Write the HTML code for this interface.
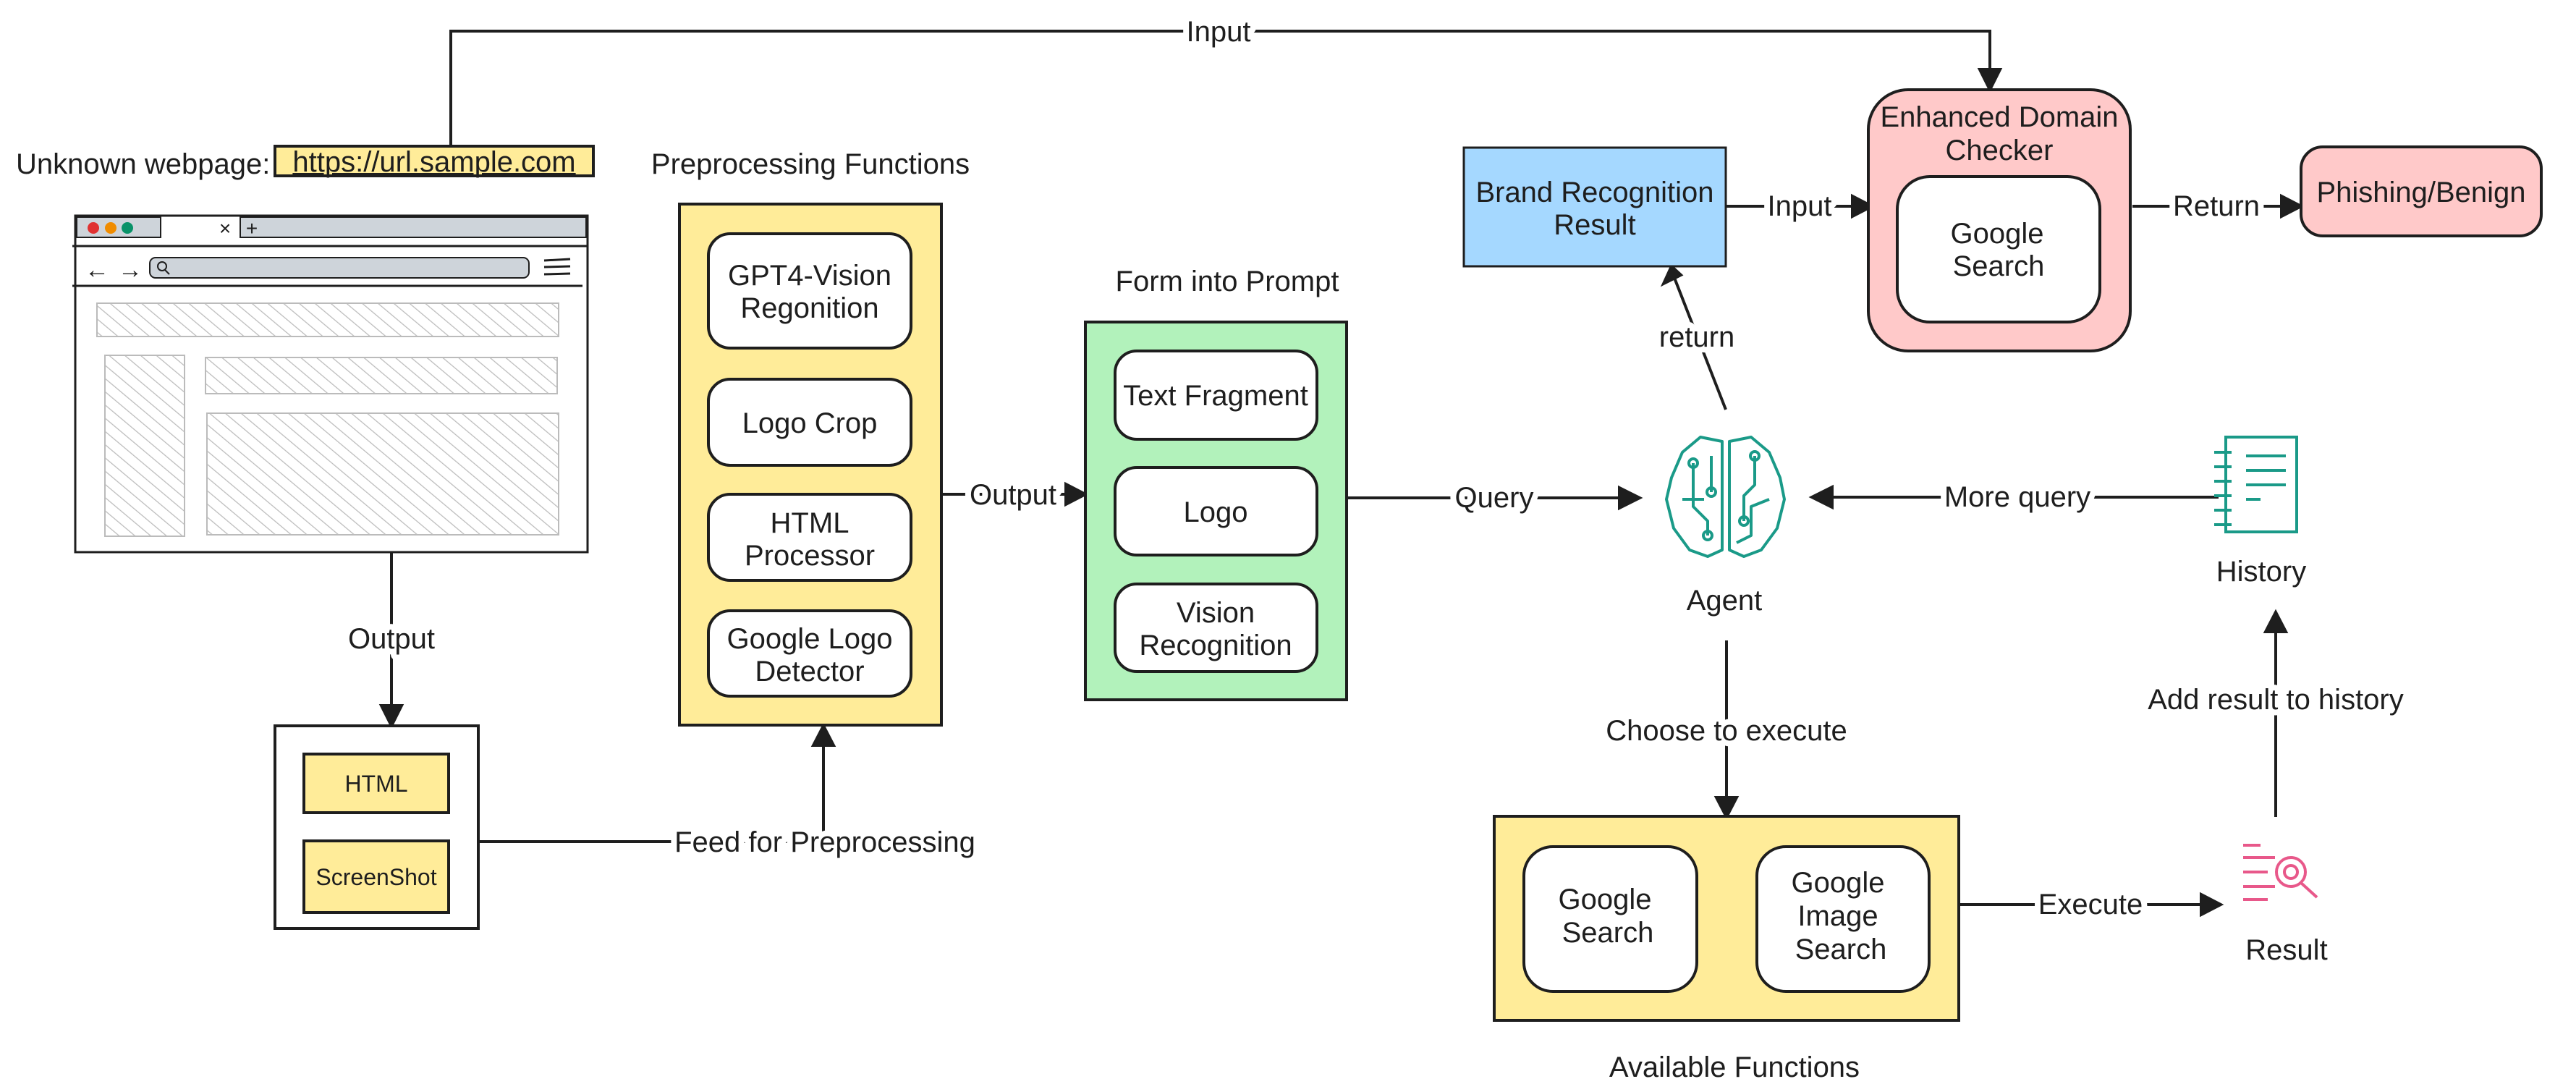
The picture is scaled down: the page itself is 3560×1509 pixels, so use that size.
<!DOCTYPE html>
<html><head><meta charset="utf-8"><style>
html,body{margin:0;padding:0;background:#fff}
svg{display:block}
text{font-family:"Liberation Sans",Arial,sans-serif;fill:#1e1e1e}
.lb{stroke:#fff;stroke-width:16;paint-order:stroke;stroke-linejoin:round}
</style></head><body>
<svg width="3560" height="1509" viewBox="0 0 3560 1509" xmlns="http://www.w3.org/2000/svg">
<defs>
<pattern id="h" width="14" height="14" patternUnits="userSpaceOnUse" patternTransform="rotate(-50)">
<line x1="0" y1="0" x2="0" y2="14" stroke="#bbb" stroke-width="2.5"/>
</pattern>
</defs>
<g stroke="#1e1e1e" stroke-width="4" fill="none">
<polyline points="623,202 623,43 2750,43 2750,118" />
<path d="M2736,96 L2764,96 L2750,124 z" fill="#1e1e1e"/>
<line x1="541" y1="763" x2="541" y2="985"/>
<path d="M527,975 L555,975 L541,1003 z" fill="#1e1e1e"/>
<polyline points="661,1163 1138,1163 1138,1010"/>
<path d="M1124,1030 L1152,1030 L1138,1003 z" fill="#1e1e1e"/>
<line x1="1301" y1="683" x2="1490" y2="683"/>
<path d="M1473,669 L1500,683 L1473,697 z" fill="#1e1e1e"/>
<line x1="1861" y1="688" x2="2255" y2="688"/>
<path d="M2238,674 L2266,688 L2238,702 z" fill="#1e1e1e"/>
<line x1="2385" y1="566" x2="2314" y2="384"/>
<path d="M2299,392 L2323,380 L2310,368 z" fill="#1e1e1e"/>
<line x1="2385" y1="285" x2="2580" y2="285"/>
<path d="M2560,271 L2587,285 L2560,299 z" fill="#1e1e1e"/>
<line x1="2947" y1="285" x2="3172" y2="285"/>
<path d="M3153,271 L3180,285 L3153,299 z" fill="#1e1e1e"/>
<line x1="3066" y1="687" x2="2515" y2="687"/>
<path d="M2532,673 L2504,687 L2532,701 z" fill="#1e1e1e"/>
<line x1="2386" y1="885" x2="2386" y2="1120"/>
<path d="M2372,1102 L2400,1102 L2386,1129 z" fill="#1e1e1e"/>
<line x1="2707" y1="1250" x2="3060" y2="1250"/>
<path d="M3042,1236 L3069,1250 L3042,1264 z" fill="#1e1e1e"/>
<line x1="3145" y1="1129" x2="3145" y2="855"/>
<path d="M3131,873 L3159,873 L3145,846 z" fill="#1e1e1e"/>
</g>

<g font-size="40" text-anchor="middle">
<text class="lb" x="1684" y="57">Input</text>
<text class="lb" x="541" y="896">Output</text>
<text class="lb" x="1140" y="1177">Feed for Preprocessing</text>
<text class="lb" x="1400" y="697">Output</text>
<text class="lb" x="2065" y="701">Query</text>
<text class="lb" x="2345" y="479">return</text>
<text class="lb" x="2487" y="298">Input</text>
<text class="lb" x="3063" y="298">Return</text>
<text class="lb" x="2788" y="700">More query</text>
<text class="lb" x="2386" y="1023">Choose to execute</text>
<text class="lb" x="2889" y="1263">Execute</text>
<text class="lb" x="3145" y="980">Add result to history</text>
</g>

<text x="22" y="240" font-size="40">Unknown webpage:</text>
<rect x="380" y="202" width="440" height="41" fill="#ffec99" stroke="#1e1e1e" stroke-width="4"/>
<text x="600" y="237" font-size="40" text-anchor="middle" text-decoration="underline">https://url.sample.com</text>

<rect x="104" y="298" width="708" height="465" fill="#fff" stroke="#1e1e1e" stroke-width="3"/>
<rect x="106" y="300" width="116" height="28" fill="#ced4da" stroke="#1e1e1e" stroke-width="2"/>
<rect x="332" y="300" width="478" height="28" fill="#ced4da" stroke="#1e1e1e" stroke-width="2"/>
<circle cx="129" cy="315" r="8" fill="#e03131"/><circle cx="153" cy="315" r="8" fill="#f08c00"/><circle cx="176" cy="315" r="8" fill="#099268"/>
<text x="311" y="325" font-size="28" text-anchor="middle">×</text>
<text x="348" y="325" font-size="28" text-anchor="middle">+</text>
<line x1="100" y1="340" x2="812" y2="340" stroke="#1e1e1e" stroke-width="3"/>
<line x1="100" y1="395" x2="805" y2="395" stroke="#1e1e1e" stroke-width="3"/>
<text x="134" y="384" font-size="34" text-anchor="middle">←</text>
<text x="180" y="384" font-size="34" text-anchor="middle">→</text>
<rect x="207" y="356" width="524" height="28" rx="8" fill="#ced4da" stroke="#1e1e1e" stroke-width="2"/>
<circle cx="224" cy="368" r="6" fill="none" stroke="#1e1e1e" stroke-width="2"/><line x1="228" y1="373" x2="234" y2="379" stroke="#1e1e1e" stroke-width="2"/>
<g stroke="#1e1e1e" stroke-width="3"><line x1="752" y1="360" x2="788" y2="358"/><line x1="752" y1="369" x2="788" y2="368"/><line x1="752" y1="379" x2="788" y2="378"/></g>
<g fill="url(#h)" stroke="#bbb" stroke-width="2">
<rect x="134" y="419" width="638" height="46"/>
<rect x="145" y="491" width="110" height="250"/>
<rect x="284" y="494" width="486" height="50"/>
<rect x="286" y="571" width="486" height="168"/>
</g>

<rect x="380" y="1003" width="281" height="280" fill="#fff" stroke="#1e1e1e" stroke-width="4"/>
<rect x="420" y="1042" width="200" height="81" fill="#ffec99" stroke="#1e1e1e" stroke-width="4"/>
<rect x="420" y="1162" width="200" height="99" fill="#ffec99" stroke="#1e1e1e" stroke-width="4"/>
<text x="520" y="1094" font-size="32" text-anchor="middle">HTML</text>
<text x="520" y="1223" font-size="32" text-anchor="middle">ScreenShot</text>

<text x="1120" y="240" font-size="40" text-anchor="middle">Preprocessing Functions</text>
<rect x="939" y="282" width="362" height="720" fill="#ffec99" stroke="#1e1e1e" stroke-width="4"/>
<g fill="#fff" stroke="#1e1e1e" stroke-width="4">
<rect x="979" y="323" width="280" height="158" rx="30"/>
<rect x="979" y="524" width="280" height="119" rx="30"/>
<rect x="979" y="683" width="280" height="119" rx="30"/>
<rect x="979" y="844" width="280" height="118" rx="30"/>
</g>
<g font-size="40" text-anchor="middle">
<text x="1119" y="394">GPT4-Vision</text><text x="1119" y="439">Regonition</text>
<text x="1119" y="598">Logo Crop</text>
<text x="1119" y="736">HTML</text><text x="1119" y="781">Processor</text>
<text x="1119" y="896">Google Logo</text><text x="1119" y="941">Detector</text>
</g>

<text x="1696" y="402" font-size="40" text-anchor="middle">Form into Prompt</text>
<rect x="1500" y="445" width="361" height="522" fill="#b2f2bb" stroke="#1e1e1e" stroke-width="4"/>
<g fill="#fff" stroke="#1e1e1e" stroke-width="4">
<rect x="1541" y="485" width="279" height="122" rx="30"/>
<rect x="1541" y="646" width="279" height="121" rx="30"/>
<rect x="1541" y="807" width="279" height="121" rx="30"/>
</g>
<g font-size="40" text-anchor="middle">
<text x="1680" y="560">Text Fragment</text>
<text x="1680" y="721">Logo</text>
<text x="1680" y="860">Vision</text><text x="1680" y="905">Recognition</text>
</g>

<g stroke="#1a9a88" stroke-width="4" fill="none" stroke-linejoin="round">
<path d="M2380,610 L2350,604 L2325,625 L2310,660 L2303,690 L2313,730 L2335,760 L2360,769 L2380,760 Z"/>
<path d="M2390,610 L2420,604 L2445,625 L2460,660 L2466,690 L2456,730 L2434,760 L2410,769 L2390,760 Z"/>
<polyline points="2340,640 2340,700 2360,720 2360,740"/>
<polyline points="2325,690 2355,690"/>
<polyline points="2365,630 2365,680"/>
<polyline points="2425,630 2425,670 2410,685 2410,720"/>
<polyline points="2445,690 2420,700 2420,740 2400,750"/>
<circle cx="2340" cy="640" r="6"/><circle cx="2365" cy="680" r="6"/><circle cx="2425" cy="630" r="6"/><circle cx="2410" cy="720" r="6"/><circle cx="2360" cy="740" r="6"/>
</g>
<text x="2383" y="843" font-size="40" text-anchor="middle">Agent</text>

<rect x="2023" y="204" width="362" height="164" fill="#a5d8ff" stroke="#1e1e1e" stroke-width="3"/>
<text x="2204" y="279" font-size="40" text-anchor="middle">Brand Recognition</text>
<text x="2204" y="324" font-size="40" text-anchor="middle">Result</text>

<rect x="2582" y="124" width="362" height="361" rx="55" fill="#ffc9c9" stroke="#1e1e1e" stroke-width="4"/>
<text x="2763" y="175" font-size="40" text-anchor="middle">Enhanced Domain</text>
<text x="2763" y="221" font-size="40" text-anchor="middle">Checker</text>
<rect x="2622" y="244" width="280" height="201" rx="45" fill="#fff" stroke="#1e1e1e" stroke-width="4"/>
<text x="2760" y="336" font-size="40" text-anchor="middle">Google</text>
<text x="2762" y="381" font-size="40" text-anchor="middle">Search</text>

<rect x="3180" y="203" width="332" height="123" rx="30" fill="#ffc9c9" stroke="#1e1e1e" stroke-width="4"/>
<text x="3346" y="279" font-size="40" text-anchor="middle">Phishing/Benign</text>

<g stroke="#1a9a88" stroke-width="4" fill="none">
<rect x="3076" y="604" width="98" height="131"/>
<line x1="3060" y1="625" x2="3084" y2="625"/><line x1="3060" y1="645" x2="3084" y2="645"/><line x1="3060" y1="665" x2="3084" y2="665"/><line x1="3060" y1="685" x2="3084" y2="685"/><line x1="3060" y1="705" x2="3084" y2="705"/><line x1="3060" y1="725" x2="3084" y2="725"/>
<line x1="3104" y1="630" x2="3159" y2="630"/><line x1="3104" y1="650" x2="3159" y2="650"/><line x1="3104" y1="670" x2="3159" y2="670"/><line x1="3104" y1="690" x2="3124" y2="690"/>
</g>
<text x="3125" y="803" font-size="40" text-anchor="middle">History</text>

<rect x="2065" y="1128" width="642" height="282" fill="#ffec99" stroke="#1e1e1e" stroke-width="4"/>
<rect x="2106" y="1170" width="239" height="200" rx="40" fill="#fff" stroke="#1e1e1e" stroke-width="4"/>
<rect x="2428" y="1170" width="238" height="200" rx="40" fill="#fff" stroke="#1e1e1e" stroke-width="4"/>
<g font-size="40" text-anchor="middle">
<text x="2218" y="1256">Google</text><text x="2222" y="1302">Search</text>
<text x="2540" y="1233">Google</text><text x="2540" y="1279">Image</text><text x="2544" y="1325">Search</text>
</g>
<text x="2397" y="1488" font-size="40" text-anchor="middle">Available Functions</text>

<g stroke="#e8588a" stroke-width="4" fill="none">
<line x1="3100" y1="1168" x2="3124" y2="1168"/>
<line x1="3100" y1="1185" x2="3144" y2="1185"/>
<line x1="3100" y1="1205" x2="3134" y2="1205"/>
<line x1="3100" y1="1225" x2="3144" y2="1225"/>
<line x1="3100" y1="1243" x2="3134" y2="1243"/>
<circle cx="3166" cy="1205" r="20"/><circle cx="3166" cy="1205" r="9"/>
<line x1="3180" y1="1220" x2="3202" y2="1240"/>
</g>
<text x="3160" y="1326" font-size="40" text-anchor="middle">Result</text>
</svg>
</body></html>
